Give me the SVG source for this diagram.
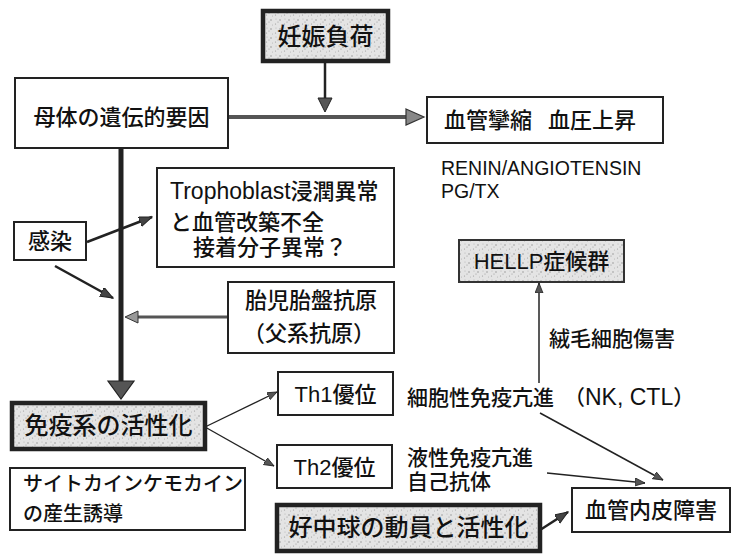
<svg xmlns="http://www.w3.org/2000/svg" width="732" height="554" viewBox="0 0 732 554">
<style>
text{font-family:"Liberation Sans","Noto Sans CJK JP",sans-serif;fill:#111;font-weight:500;}
.box{fill:#fff;stroke:#222;stroke-width:2;}
.hbox{fill:url(#stip);stroke:#222;stroke-width:4.5;}
.gbox{fill:url(#stip);stroke:#333;stroke-width:2;}
.t22{font-size:22px;}
.t24{font-size:24px;}
.t21{font-size:21px;}
.t20{font-size:20px;}
.ln{fill:none;stroke:#222;}
</style>
<defs>
<pattern id="stip" width="9" height="9" patternUnits="userSpaceOnUse">
<rect width="9" height="9" fill="#e4e4e4"/>
<circle cx="1" cy="2" r="0.7" fill="#8a8a8a"/>
<circle cx="5.5" cy="6" r="0.6" fill="#999"/>
<circle cx="6" cy="1" r="0.5" fill="#aaa"/>
<circle cx="2.5" cy="7" r="0.5" fill="#b0b0b0"/>
<circle cx="8" cy="4" r="0.6" fill="#9a9a9a"/>
</pattern>
<marker id="am" markerUnits="userSpaceOnUse" markerWidth="14" markerHeight="12" refX="13" refY="5" orient="auto">
<path d="M0,0 L13,5 L0,10 z" fill="#444" stroke="#222" stroke-width="1"/>
</marker>
<marker id="as" markerUnits="userSpaceOnUse" markerWidth="11" markerHeight="10" refX="10" refY="4" orient="auto">
<path d="M0,0 L10,4 L0,8 z" fill="#555" stroke="#222" stroke-width="0.8"/>
</marker>
</defs>

<g id="connectors">
<line class="ln" x1="325" y1="61" x2="325" y2="99" stroke-width="2.5"/>
<polygon points="318,98 332,98 325,112" fill="#555" stroke="#222" stroke-width="1"/>
<line x1="228" y1="117" x2="408" y2="117" stroke="#555" stroke-width="4"/>
<polygon points="406,109 424,117 406,125" fill="#888" stroke="#333" stroke-width="1.2"/>
<line x1="121" y1="148" x2="121" y2="384" stroke="#222" stroke-width="5"/>
<polygon points="108,381 134,381 121,399" fill="#555" stroke="#222" stroke-width="1.2"/>
<line class="ln" x1="87" y1="242" x2="152" y2="217" stroke-width="2.5" marker-end="url(#am)"/>
<line class="ln" x1="55" y1="266" x2="113" y2="298" stroke-width="2.5" marker-end="url(#am)"/>
<line x1="228" y1="317" x2="136" y2="317" stroke="#555" stroke-width="3"/>
<polygon points="138,311 125,317 138,323" fill="#999" stroke="#333" stroke-width="1"/>
<line class="ln" x1="205" y1="427" x2="277" y2="392" stroke-width="1.3" marker-end="url(#as)"/>
<line class="ln" x1="205" y1="427" x2="274" y2="466" stroke-width="1.3" marker-end="url(#as)"/>
<line class="ln" x1="539" y1="383" x2="539" y2="283" stroke-width="1.5" marker-end="url(#as)"/>
<line class="ln" x1="540" y1="413" x2="663" y2="480" stroke-width="1.5" marker-end="url(#as)"/>
<line class="ln" x1="547" y1="473" x2="645" y2="483" stroke-width="1.5" marker-end="url(#as)"/>
<line class="ln" x1="540" y1="530" x2="568" y2="512" stroke-width="2.5" marker-end="url(#am)"/>
</g>

<g id="ninshin">
<rect class="hbox" x="263" y="11" width="125" height="50"/>
<text class="t24" x="325.5" y="45" text-anchor="middle">妊娠負荷</text>
</g>

<g id="botai">
<rect class="box" x="15" y="78" width="213" height="70" stroke-width="2.5"/>
<text class="t22" x="121.5" y="125" text-anchor="middle">母体の遺伝的要因</text>
</g>

<g id="kekkan">
<rect class="box" x="427" y="97" width="236" height="46"/>
<text class="t22" y="128"><tspan x="444">血管攣縮</tspan><tspan x="548">血圧上昇</tspan></text>
</g>

<g id="renin">
<text font-size="19.5" x="441" y="175">RENIN/ANGIOTENSIN</text>
<text font-size="19.5" x="441" y="198">PG/TX</text>
</g>

<g id="tropho">
<rect class="box" x="157" y="168" width="237" height="99"/>
<text class="t22" x="170" y="199"><tspan font-size="23">Trophoblast</tspan>浸潤異常</text>
<text class="t22" x="170" y="230">と血管改築不全</text>
<text class="t22" x="193" y="255">接着分子異常？</text>
</g>

<g id="kansen">
<rect class="box" x="14" y="222" width="72" height="38"/>
<text class="t22" x="50" y="249" text-anchor="middle">感染</text>
</g>

<g id="taiji">
<rect class="box" x="228" y="282" width="166" height="71"/>
<text class="t22" x="311" y="308" text-anchor="middle">胎児胎盤抗原</text>
<text class="t22" x="309" y="341" text-anchor="middle">（父系抗原）</text>
</g>

<g id="hellp">
<rect class="gbox" x="459" y="240" width="165" height="42"/>
<text class="t22" x="541.5" y="269" text-anchor="middle">HELLP症候群</text>
</g>

<g id="jumou">
<text class="t21" x="549" y="346">絨毛細胞傷害</text>
</g>

<g id="meneki">
<rect class="hbox" x="12" y="403" width="193" height="46"/>
<text class="t24" x="108.5" y="434" text-anchor="middle">免疫系の活性化</text>
</g>

<g id="th1">
<rect class="box" x="278" y="372" width="115" height="43"/>
<text class="t22" x="335.5" y="402" text-anchor="middle">Th1優位</text>
</g>

<g id="th2">
<rect class="box" x="277" y="445" width="115" height="43"/>
<text class="t22" x="334.5" y="475" text-anchor="middle">Th2優位</text>
</g>

<g id="saibou">
<text class="t21" x="407" y="405">細胞性免疫亢進<tspan x="564">（</tspan><tspan font-size="23">NK, CTL</tspan>）</text>
</g>

<g id="ekisei">
<text class="t21" x="407" y="465">液性免疫亢進</text>
<text class="t21" x="407" y="489">自己抗体</text>
</g>

<g id="cytokine">
<rect class="box" x="10" y="468" width="235" height="62"/>
<text class="t20" x="23" y="491">サイトカインケモカイン</text>
<text class="t20" x="23" y="521">の産生誘導</text>
</g>

<g id="koutyuu">
<rect class="hbox" x="277" y="505" width="263" height="46"/>
<text class="t24" x="408.5" y="536" text-anchor="middle">好中球の動員と活性化</text>
</g>

<g id="naihi">
<rect class="box" x="572" y="488" width="158" height="44"/>
<text class="t22" x="651" y="518" text-anchor="middle">血管内皮障害</text>
</g>
</svg>
